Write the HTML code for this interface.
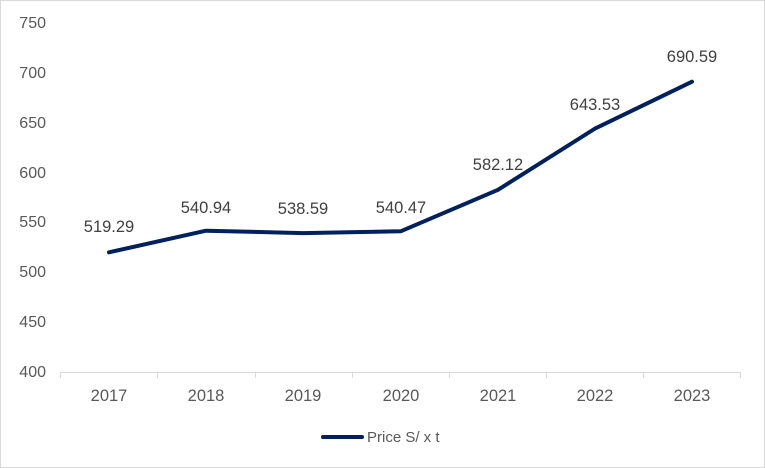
<!DOCTYPE html>
<html><head><style>
body{margin:0;background:#fff}
svg{display:block;font-family:"Liberation Sans",Arial,sans-serif}
</style></head><body>
<svg width="765" height="468" viewBox="0 0 765 468">
<rect x="0.5" y="0.5" width="764" height="467" fill="#fff" stroke="#d9d9d9"/>
<g fill="#595959" font-size="16" text-anchor="end">
<text x="46" y="377">400</text>
<text x="46" y="327">450</text>
<text x="46" y="277">500</text>
<text x="46" y="227">550</text>
<text x="46" y="178">600</text>
<text x="46" y="128">650</text>
<text x="46" y="78">700</text>
<text x="46" y="28">750</text>
</g>
<g stroke="#d9d9d9" stroke-width="1">
<line x1="60" y1="372.5" x2="741" y2="372.5"/>
<line x1="60.5" y1="372" x2="60.5" y2="378"/>
<line x1="157.5" y1="372" x2="157.5" y2="378"/>
<line x1="255.5" y1="372" x2="255.5" y2="378"/>
<line x1="352.5" y1="372" x2="352.5" y2="378"/>
<line x1="449.5" y1="372" x2="449.5" y2="378"/>
<line x1="546.5" y1="372" x2="546.5" y2="378"/>
<line x1="643.5" y1="372" x2="643.5" y2="378"/>
<line x1="740.5" y1="372" x2="740.5" y2="378"/>
</g>
<g fill="#595959" font-size="16.5" text-anchor="middle">
<text x="109" y="401">2017</text>
<text x="206" y="401">2018</text>
<text x="303" y="401">2019</text>
<text x="401" y="401">2020</text>
<text x="498" y="401">2021</text>
<text x="595" y="401">2022</text>
<text x="692" y="401">2023</text>
</g>
<polyline fill="none" stroke="#002060" stroke-width="4" stroke-linejoin="round" stroke-linecap="round"
points="109,252.3 206,230.7 303,233.1 401,231.2 498,189.8 595,128.6 692,81.7"/>
<g fill="#404040" font-size="16.5" text-anchor="middle">
<text x="109" y="232">519.29</text>
<text x="206" y="213">540.94</text>
<text x="303" y="214">538.59</text>
<text x="401" y="213">540.47</text>
<text x="498" y="170">582.12</text>
<text x="595" y="110">643.53</text>
<text x="692" y="62">690.59</text>
</g>
<line x1="323" y1="437" x2="362" y2="437" stroke="#002060" stroke-width="4" stroke-linecap="round"/>
<text x="367" y="442" fill="#595959" font-size="15">Price S/ x t</text>
</svg>
</body></html>
